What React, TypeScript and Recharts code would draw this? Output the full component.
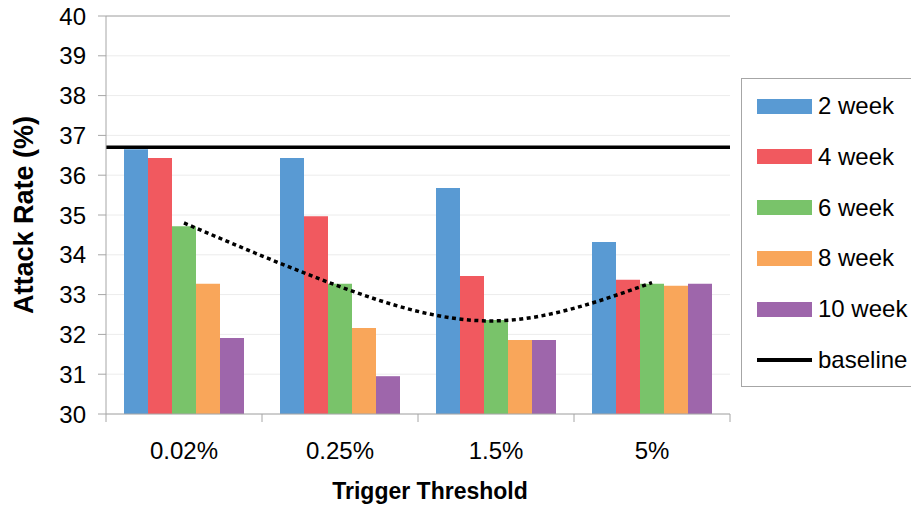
import { ComposedChart, Bar, Line, XAxis, YAxis, CartesianGrid, ReferenceLine } from 'recharts'

const categories = ['0.02%', '0.25%', '1.5%', '5%']
const week2 = [36.65, 36.43, 35.68, 34.32]
const week4 = [36.43, 34.97, 33.47, 33.37]
const week6 = [34.72, 33.27, 32.36, 33.27]
const week8 = [33.27, 32.16, 31.86, 33.22]
const week10 = [31.91, 30.95, 31.86, 33.27]
const trend = [34.8, 33.2, 32.34, 33.3]
const baseline = 36.7
const yTicks = [30, 31, 32, 33, 34, 35, 36, 37, 38, 39, 40]

const series = [
  { key: 'w2', name: '2 week', color: '#599AD3', values: week2 },
  { key: 'w4', name: '4 week', color: '#F1595F', values: week4 },
  { key: 'w6', name: '6 week', color: '#79C36A', values: week6 },
  { key: 'w8', name: '8 week', color: '#F9A65A', values: week8 },
  { key: 'w10', name: '10 week', color: '#9E66AB', values: week10 },
]

const data = categories.map((cat, i) => {
  const row: any = { cat, trend: trend[i] }
  series.forEach(s => { row[s.key] = s.values[i] })
  return row
})

const W = 911
const H = 507
const M = { top: 16, right: 181, bottom: 0, left: 0 }
const Y_W = 106
const X_H = 93
const BAND = (W - M.right - Y_W) / categories.length
const AXIS = '#a6a6a6'
const FONT = '"Liberation Sans", Arial, sans-serif'

// category labels plus tick marks on the band edges (Excel style)
const XTick = ({ x, y, payload, index }: any) => {
  const y0 = y - 28
  const last = index === categories.length - 1
  return (
    <g>
      <line x1={x - BAND / 2} x2={x - BAND / 2} y1={y0} y2={y0 + 8} stroke={AXIS} />
      {last && <line x1={x + BAND / 2} x2={x + BAND / 2} y1={y0} y2={y0 + 8} stroke={AXIS} />}
      <text x={x} y={y} dy="0.71em" textAnchor="middle" fontSize={24} fill="#000" fontFamily={FONT}>
        {payload.value}
      </text>
    </g>
  )
}

const legendRow = (top: number): any => ({
  position: 'absolute', left: 15, top: top - 14, height: 28, display: 'flex', alignItems: 'center',
})
const legendText: any = { marginLeft: 6, fontSize: 24, color: '#000', whiteSpace: 'nowrap' }

export default function App() {
  return (
    <div style={{ position: 'absolute', left: 0, top: 0, width: W, height: H, overflow: 'hidden', background: '#fff', fontFamily: FONT }}>
      <ComposedChart width={W} height={H} data={data} margin={M} barCategoryGap={18} barGap={0}>
        <CartesianGrid vertical={false} stroke="#ececec" />
        <XAxis
          dataKey="cat"
          height={X_H}
          tickLine={false}
          tickSize={8}
          tickMargin={20}
          axisLine={{ stroke: AXIS }}
          tick={<XTick />}
          interval={0}
          label={{ value: 'Trigger Threshold', position: 'insideBottom', offset: 8, dx: 12, fontSize: 23, fontWeight: 700, fill: '#000' }}
        />
        <YAxis
          type="number"
          domain={[30, 40]}
          ticks={yTicks}
          width={Y_W}
          tickSize={8}
          tickMargin={12}
          tick={{ fontSize: 24, fill: '#000' }}
          axisLine={{ stroke: AXIS }}
          tickLine={{ stroke: AXIS }}
          label={{
            value: 'Attack Rate (%)',
            angle: -90,
            position: 'insideLeft',
            offset: 23,
            style: { textAnchor: 'middle', fontSize: 27, fontWeight: 700, fill: '#000' },
          }}
        />
        <YAxis yAxisId="r" orientation="right" width={0} domain={[30, 40]} tick={false} tickLine={false} axisLine={{ stroke: AXIS }} />
        <ReferenceLine y={40} stroke={AXIS} />

        {series.map(s => (
          <Bar key={s.key} dataKey={s.key} name={s.name} fill={s.color} isAnimationActive={false} />
        ))}

        <ReferenceLine y={baseline} stroke="#000" strokeWidth={3.5} />

        <Line
          dataKey="trend"
          type="natural"
          stroke="#000"
          strokeWidth={3.5}
          strokeDasharray="4 3.5"
          dot={false}
          activeDot={false}
          isAnimationActive={false}
        />
      </ComposedChart>

      <div style={{
        position: 'absolute', left: 741, top: 78, width: 200, height: 309,
        border: `1.5px solid ${AXIS}`, background: '#fff', boxSizing: 'border-box',
      }}>
        {series.map((s, i) => (
          <div key={s.key} style={legendRow(27 + i * 50.8)}>
            <div style={{ width: 55, height: 15, background: s.color }} />
            <span style={legendText}>{s.name}</span>
          </div>
        ))}
        <div style={legendRow(27 + 5 * 50.8)}>
          <div style={{ width: 55, height: 3.5, background: '#000' }} />
          <span style={legendText}>baseline</span>
        </div>
      </div>
    </div>
  )
}
